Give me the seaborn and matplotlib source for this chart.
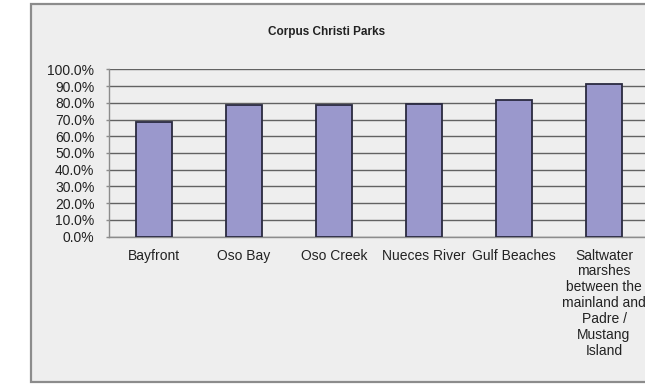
import matplotlib
matplotlib.use("Agg")
import matplotlib.pyplot as plt
from matplotlib.patches import Rectangle
from matplotlib.ticker import PercentFormatter
import numpy as np
import pandas as pd
import seaborn as sns

# ---- data ----
title = "Corpus Christi Parks"
categories = ["Bayfront", "Oso Bay", "Oso Creek", "Nueces River", "Gulf Beaches",
              "Saltwater\nmarshes\nbetween the\nmainland and\nPadre /\nMustang\nIsland"]
values = [0.683, 0.784, 0.784, 0.793, 0.817, 0.912]
y_ticks = [0.0, 0.1, 0.2, 0.3, 0.4, 0.5, 0.6, 0.7, 0.8, 0.9, 1.0]

df = pd.DataFrame({"park": categories, "share": values})

sns.set_theme(style="white")
plt.rcParams["font.family"] = ["Liberation Sans", "DejaVu Sans"]

W, H = 645, 387
fig = plt.figure(figsize=(W / 100, H / 100), dpi=100)
fig.patch.set_facecolor("white")

# chart panel with gray border
panel = Rectangle((31 / W, 1 - 382 / H), (660 - 31) / W, (382 - 4) / H,
                  transform=fig.transFigure, facecolor="#eeeeee",
                  edgecolor="#8c8c8c", linewidth=1.6, zorder=-5)
fig.patches.append(panel)

ax = fig.add_axes([109 / W, (H - 236.7) / H, 540 / W, 167.4 / H])
ax.set_zorder(2)
ax.set_facecolor("#eeeeee")
ax.patch.set_alpha(0)

sns.barplot(data=df, x="park", y="share", ax=ax, color="#9a98cc", saturation=1,
            edgecolor="#2a2a40", linewidth=1.3, width=0.4, zorder=3)

ax.set_ylim(0, 1)
ax.set_xlim(-0.5, len(categories) - 0.5)
ax.set_yticks(y_ticks)
ax.yaxis.set_major_formatter(PercentFormatter(1.0, decimals=1))
ax.grid(axis="y", color="#626262", linewidth=1.0, zorder=1)
ax.set_axisbelow(True)

ax.set_xticks(np.arange(len(categories) + 1) - 0.5, minor=True)
ax.tick_params(axis="x", which="major", length=0, pad=8.5, labelsize=10, labelcolor="#222222")
ax.tick_params(axis="x", which="minor", length=3, width=1, color="#8c8c8c", direction="out")
ax.tick_params(axis="y", which="major", length=2.5, width=1, color="#8c8c8c",
               direction="out", left=True, pad=8, labelsize=10, labelcolor="#222222")

for lbl in ax.get_xticklabels():
    lbl.set_ha("center")
    lbl.set_multialignment("center")
    lbl.set_linespacing(1.18)

ax.set_xlabel("")
ax.set_ylabel("")
for side in ["top", "right"]:
    ax.spines[side].set_visible(False)
for side in ["left", "bottom"]:
    ax.spines[side].set_color("#8c8c8c")
    ax.spines[side].set_linewidth(1.0)

fig.text(327 / W, 1 - 32 / H, title, ha="center", va="center",
         fontsize=8.5, fontweight="bold", color="#222222", zorder=3)

fig.savefig("out.png", dpi=100)
